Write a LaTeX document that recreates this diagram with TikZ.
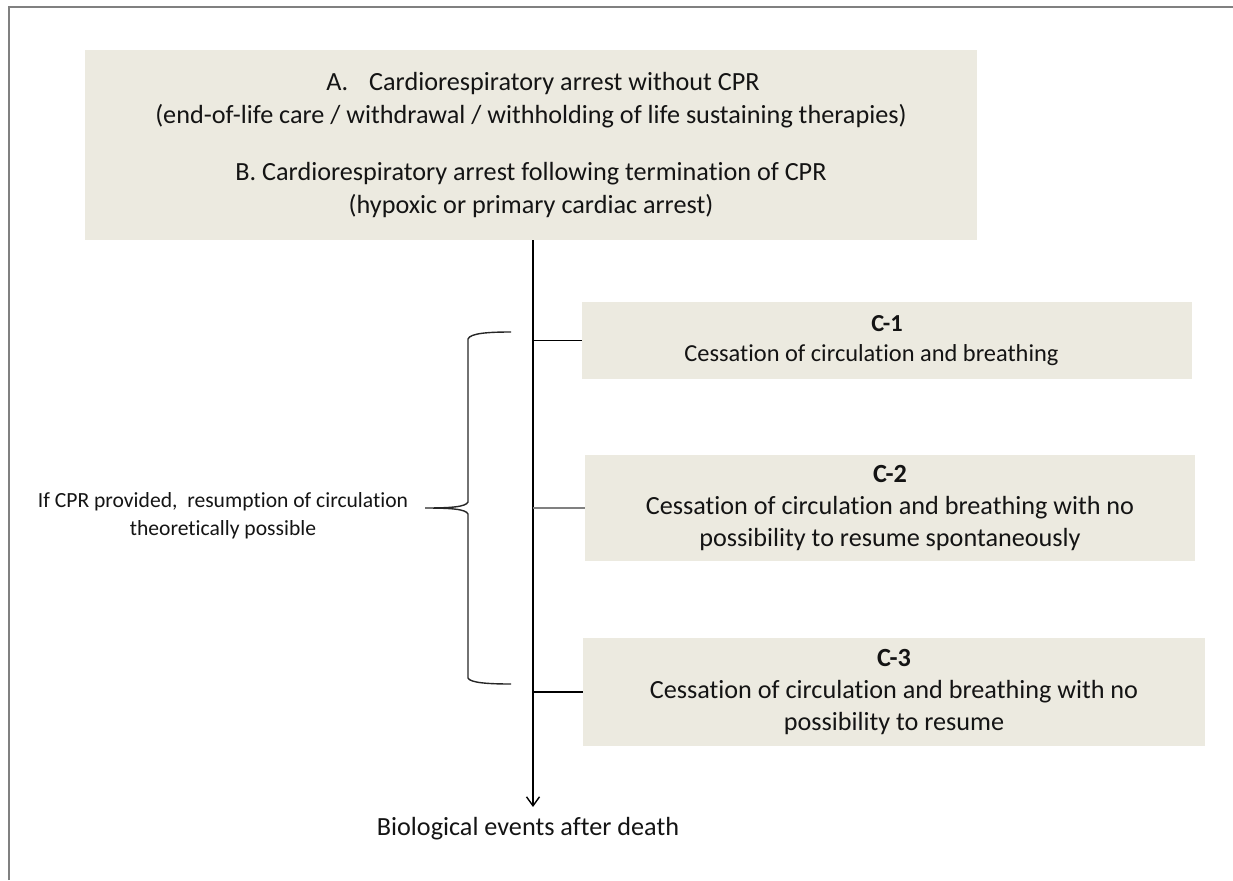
\documentclass[tikz,border=0pt]{standalone}
\usepackage{fontspec}
\setmainfont[Ligatures=NoCommon]{Carlito}
\usetikzlibrary{arrows.meta}
\definecolor{boxfill}{RGB}{236,234,224}
\definecolor{framegray}{RGB}{128,128,128}
\definecolor{textcol}{RGB}{20,20,20}
\tikzset{
  box/.style={fill=boxfill, draw=none, inner sep=0pt, align=center, text=textcol, font=\fontsize{26.2}{32}\selectfont},
  conn/.style={line width=1.4pt, black},
  lbl/.style={inner sep=0pt, align=center, text=textcol},
}
\begin{document}
\begin{tikzpicture}[x=1pt,y=-1pt]
\useasboundingbox (0,0) rectangle (1233,880);
\draw[framegray, line width=2.2pt] (9,880) -- (9,7) -- (1233,7);

\node[box, minimum width=892pt, minimum height=190pt, font=\fontsize{26.2}{33}\selectfont] (top) at (531,145)
  {\hspace*{24pt}A.\hspace{21pt}Cardiorespiratory arrest without CPR\\
   (end-of-life care / withdrawal / withholding of life sustaining therapies)\\[24pt]
   B. Cardiorespiratory arrest following termination of CPR\\
   (hypoxic or primary cardiac arrest)};

\node[box, minimum width=610pt, minimum height=77pt, font=\fontsize{24.4}{30}\selectfont] (c1) at (887,340.5)
  {\textbf{C-1}\\Cessation of circulation and breathing\hspace*{31pt}};
\node[box, minimum width=610pt, minimum height=106pt] (c2) at (890,508)
  {\textbf{C-2}\\Cessation of circulation and breathing with no\\possibility to resume spontaneously};
\node[box, minimum width=622pt, minimum height=108pt] (c3) at (894,692)
  {\textbf{C-3}\\Cessation of circulation and breathing with no\\possibility to resume};

\node[lbl, font=\fontsize{26.2}{30}\selectfont] (bio) at (528,829) {Biological events after death};
\node[lbl, font=\fontsize{21.6}{28}\selectfont] (cpr) at (223,516)
  {If CPR provided,\ \ resumption of circulation\\theoretically possible};

\coordinate (s) at (533,240);
\draw[conn, -{Straight Barb[length=9pt,width=13pt,line width=1.4pt]}] (s) -- (s |- 0,807);
\draw[conn] (c1.west -| s) -- (c1.west);
\draw[line width=2.6pt, framegray] (c2.west -| s) -- (c2.west);
\draw[conn] (c3.west -| s) -- (c3.west);

% brace
\draw[line width=1.4pt, black!85]
  (511,332) .. controls (490,332) and (470,333) .. (468,339)
  -- (468,502) .. controls (466,507) and (450,508) .. (425,508)
  .. controls (450,508) and (466,509) .. (468,514)
  -- (468,678) .. controls (470,683) and (490,684) .. (511,684);
\end{tikzpicture}
\end{document}
